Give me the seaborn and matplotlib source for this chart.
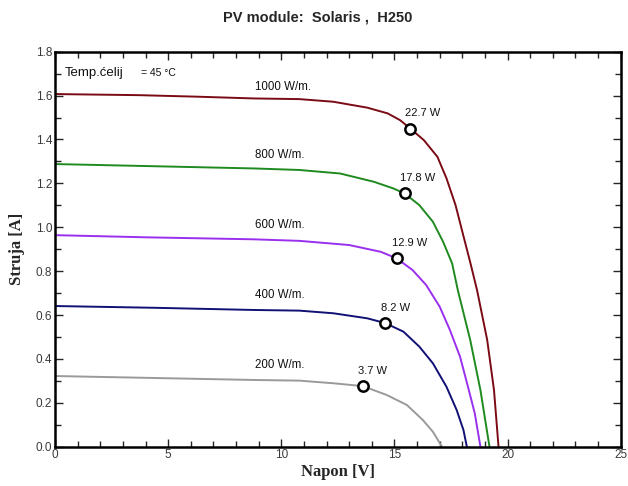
import matplotlib
matplotlib.use("Agg")
import matplotlib.pyplot as plt
from matplotlib.ticker import MultipleLocator, FormatStrFormatter
import pandas as pd
import seaborn as sns

# I-V curves (V in volts, I in amps)
IRRADIANCE = ["1000", "800", "600", "400", "200"]

V_1000 = [0, 3.7, 6.3, 8.8, 10.8, 12.3, 13.8, 14.7, 15.25, 15.7, 16.3, 16.9, 17.3, 17.7, 18.05, 18.35, 18.65, 19.1, 19.4, 19.6]
I_1000 = [1.607, 1.602, 1.595, 1.587, 1.584, 1.572, 1.545, 1.519, 1.488, 1.450, 1.397, 1.321, 1.223, 1.101, 0.960, 0.840, 0.714, 0.486, 0.258, 0.0]

V_800 = [0, 4.0, 8.8, 10.8, 12.6, 14.1, 14.95, 15.45, 16.1, 16.7, 17.15, 17.55, 17.8, 18.35, 18.8, 19.2]
I_800 = [1.288, 1.279, 1.268, 1.261, 1.245, 1.207, 1.177, 1.154, 1.101, 1.025, 0.934, 0.835, 0.714, 0.486, 0.258, 0.0]

V_600 = [0, 4.1, 8.8, 10.8, 13.0, 14.4, 15.1, 15.8, 16.4, 17.0, 17.45, 17.9, 18.25, 18.55, 18.8]
I_600 = [0.964, 0.954, 0.945, 0.938, 0.919, 0.888, 0.858, 0.805, 0.737, 0.638, 0.532, 0.410, 0.273, 0.152, 0.0]

V_400 = [0, 4.4, 8.8, 10.8, 12.3, 13.8, 14.6, 15.4, 16.1, 16.7, 17.3, 17.75, 18.05, 18.2]
I_400 = [0.641, 0.633, 0.623, 0.620, 0.608, 0.585, 0.563, 0.524, 0.456, 0.380, 0.273, 0.167, 0.076, 0.0]

V_200 = [0, 4.9, 8.8, 10.8, 12.3, 13.6, 14.65, 15.55, 16.25, 16.7, 17.1]
I_200 = [0.322, 0.312, 0.304, 0.301, 0.289, 0.276, 0.236, 0.190, 0.122, 0.068, 0.0]

# maximum power points
V_MPP = [15.7, 15.45, 15.1, 14.6, 13.6]
I_MPP = [1.450, 1.154, 0.858, 0.563, 0.276]
P_LABELS = ["22.7 W", "17.8 W", "12.9 W", "8.2 W", "3.7 W"]

# curve labels: left edge at V, vertical centre at I
LABEL_V = 8.84
LABEL_I = [1.64, 1.33, 1.01, 0.69, 0.37]

COLORS = ["#7a0a14", "#1f8a1f", "#9a30ee", "#101075", "#9a9a9a"]

sns.set_style("ticks")
plt.rcParams["font.family"] = ["Liberation Sans", "DejaVu Sans"]

curves = {"1000": (V_1000, I_1000), "800": (V_800, I_800), "600": (V_600, I_600),
          "400": (V_400, I_400), "200": (V_200, I_200)}
rows = []
for g in IRRADIANCE:
    vs, cs = curves[g]
    for v, c in zip(vs, cs):
        rows.append({"V": v, "I": c, "G": g})
df = pd.DataFrame(rows)

fig = plt.figure(figsize=(6.28, 4.86), dpi=100)
ax = fig.add_axes([0.0876, 0.0809, 0.9008, 0.8127])

sns.lineplot(data=df, x="V", y="I", hue="G", hue_order=IRRADIANCE,
             palette=COLORS, sort=False, estimator=None, linewidth=1.4,
             legend=False, ax=ax)

mpp = pd.DataFrame({"V": V_MPP, "I": I_MPP})
sns.scatterplot(data=mpp, x="V", y="I", s=55, facecolor="white",
                edgecolor="black", linewidth=1.8, zorder=5, ax=ax)

for v, c, lab in zip(V_MPP, I_MPP, P_LABELS):
    ax.annotate(lab, (v, c), xytext=(-3.5, 11), textcoords="offset points",
                ha="left", va="center", fontsize=8, color="#111111")

for g, yl in zip(IRRADIANCE, LABEL_I):
    ax.text(LABEL_V, yl, g + " W/m.", ha="left", va="center", fontsize=8.3, color="#111111")

ax.text(0.018, 1.702, "Temp.ćelij", transform=ax.get_yaxis_transform(),
        ha="left", va="center", fontsize=9.5, color="#111111")
ax.text(0.152, 1.702, "= 45 °C", transform=ax.get_yaxis_transform(),
        ha="left", va="center", fontsize=7.5, color="#111111")

ax.set_xlim(0, 25)
ax.set_ylim(0, 1.8)
ax.xaxis.set_major_locator(MultipleLocator(5))
ax.xaxis.set_minor_locator(MultipleLocator(1))
ax.yaxis.set_major_locator(MultipleLocator(0.2))
ax.yaxis.set_minor_locator(MultipleLocator(0.1))
ax.yaxis.set_major_formatter(FormatStrFormatter("%.1f"))
ax.tick_params(which="both", direction="in", top=True, right=True,
               labelsize=8.5, labelcolor="#3a3a3a", width=1.0, pad=2)
ax.tick_params(which="major", length=6)
ax.tick_params(which="minor", length=4)
for sp in ax.spines.values():
    sp.set_linewidth(1.8)
    sp.set_color("black")

ax.set_xlabel("Napon [V]", fontsize=12, fontweight="bold",
              family=["Liberation Serif", "DejaVu Serif"], labelpad=2)
ax.set_ylabel("Struja [A]", fontsize=12, fontweight="bold",
              family=["Liberation Serif", "DejaVu Serif"], labelpad=8)

fig.text(0.506, 0.965, "PV module:  Solaris ,  H250", ha="center", va="center",
         fontsize=10.5, fontweight="bold",
         family=["Liberation Sans Narrow", "Liberation Sans", "DejaVu Sans"])

fig.savefig("out.png", dpi=100, facecolor="white")
